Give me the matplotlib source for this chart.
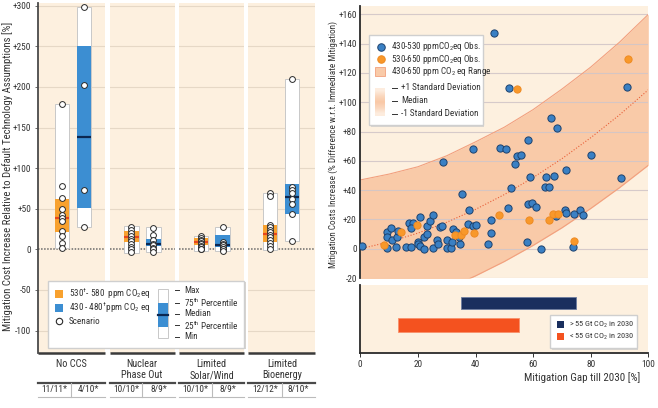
import matplotlib
matplotlib.use("Agg")
import matplotlib.pyplot as plt
import numpy as np
from matplotlib.patches import Rectangle
from matplotlib import font_manager as fm

avail = {f.name for f in fm.fontManager.ttflist}
FONT = 'Liberation Sans'
K = 0.86
for cand, k in [('Liberation Sans Narrow', 1.0), ('Roboto Condensed', 0.97),
                ('DejaVu Sans Condensed', 0.86), ('Open Sans Condensed', 0.97)]:
    if cand in avail:
        FONT, K = cand, k
        break
plt.rcParams['font.family'] = [FONT, 'Liberation Sans', 'DejaVu Sans']
plt.rcParams['mathtext.fontset'] = 'custom'
plt.rcParams['mathtext.rm'] = FONT
plt.rcParams['mathtext.it'] = FONT
plt.rcParams['mathtext.bf'] = FONT

# ---------------- data: left panel ----------------
groups = ["No CCS", "Nuclear\nPhase Out", "Limited\nSolar/Wind", "Limited\nBioenergy"]
counts_orange = ["11/11*", "10/10*", "10/10*", "12/12*"]
counts_blue = ["4/10*", "8/9*", "8/9*", "8/10*"]

# min, q1, median, q3, max
stats_orange = [
    [2, 21, 39, 62, 179],
    [-4, 9.4, 15.5, 22.5, 28.7],
    [-2, 5.3, 9.4, 13.5, 16.4],
    [-1, 8.6, 18.5, 30, 70],
]
stats_blue = [
    [28, 51, 138, 250, 298],
    [-3.7, 4, 7, 13, 27.5],
    [-2, 3.2, 5.3, 17.6, 28],
    [10, 44, 64, 80, 210],
]
scen_orange = [
    [179, 78, 63, 50, 42, 38, 35, 22, 17, 8, 2],
    [28, 24, 20, 16, 13, 10, 7, 3, 0, -3],
    [16, 14, 12, 10, 8, 6, 4, 3, 1, 0],
    [70, 66, 30, 27, 24, 21, 18, 15, 12, 8, 4, 1],
]
scen_blue = [
    [298, 202, 73, 28],
    [26, 18, 11, 7, 5, 2, 0, -3],
    [28, 9, 7, 5, 3, 1, 0, -2],
    [210, 77, 73, 69, 62, 56, 44, 10],
]
left_ticks = [-100, -50, 0, 50, 100, 150, 200, 250, 300]
left_ticklabels = ["-100", "-50", "0", "+50", "+100", "+150", "+200", "+250", "+300"]

# ---------------- data: right scatter ----------------
blue_x = [46.5, 51.6, 92.7, 66.1, 68.3, 58.1, 39.2, 48.4, 50.5, 28.8, 54.3, 55.7, 53.7, 80, 71.3,
          59, 64.4, 67.1, 90.5, 64.1, 65.5, 52.4, 35.3, 0.5, 9.2, 9.4, 10.5, 9.4, 11.1, 12.6, 13,
          12.3, 15.9, 17.6, 16.9, 18.4, 17.7, 20.6, 20, 20, 20.7, 22.1, 23.3, 22.2, 23.3, 24.1,
          25.3, 25.2, 26.5, 27, 27.8, 28.4, 30.1, 30.1, 31.5, 31.8, 32.3, 33.1, 34.7, 34.2, 37.7,
          37.5, 39.2, 40, 45.3, 45.3, 44.5, 51.4, 58.1, 59.5, 61.1, 58, 62.7, 68.1, 71.1, 71.3,
          74.2, 76.2, 77.3, 73.7]
blue_y = [147, 109.6, 110.4, 89.1, 82.2, 74.5, 68.1, 69, 67.9, 59, 63.3, 63.8, 57.9, 64.2, 54,
          48.8, 48.8, 49.9, 48.5, 42.4, 42.2, 41.3, 37.4, 1.9, 0.8, 11.2, 14.2, 7.8, 6, 7.8, 12.4,
          1, 1.2, 1.2, 17.4, 17.4, 14.4, 21.7, 4.8, 3.5, 1.9, 8.3, 10.1, 0.1, 15.4, 18.8,
          23.3, 0.3, 6, 3.5, 15.1, 15.8, 6, 0.3, 0.8, 4.6, 13.3, 11.5, 3.3, 8.1, 26.3,
          16.9, 15.6, 16.2, 19.4, 10.6, 3.5, 27.6, 30.4, 31.3, 28.5, 4.8, 0.1, 22.2, 26.3, 24.2,
          23.5, 26.7, 22.9, 1]
orange_x = [54.3, 92.8, 8.3, 14.1, 19.8, 33, 34.9, 35.9, 39.5, 48.2, 58.7, 65.4, 67, 68.6, 74.1]
orange_y = [109.3, 129.3, 2.6, 11.2, 16, 9.6, 9.6, 12.2, 10.8, 23.3, 19.4, 19.4, 23.8, 24, 5.5]

# +/-1 standard deviation and median curves, read at x = 0, 10, ..., 100
curve_x = [0, 10, 20, 30, 40, 50, 60, 70, 80, 90, 100]
sd_upper = [47, 51, 56, 63.5, 73, 83, 95, 109, 124, 141, 160]
sd_median = [0, 4.7, 10.7, 18.1, 26.9, 37, 48.6, 61.5, 75.8, 91.4, 108.5]
sd_lower = [-47, -41.5, -35, -27.3, -18.5, -8.7, 2.3, 14.3, 27.5, 41.7, 57]
right_ticks = [-20, 0, 20, 40, 60, 80, 100, 120, 140, 160]
right_ticklabels = ["-20", "0", "+20", "+40", "+60", "+80", "+100", "+120", "+140", "+160"]

# ---------------- data: right bars ----------------
bar_labels = ["> 55 Gt CO$_2$ in 2030", "< 55 Gt CO$_2$ in 2030"]
bar_start = [35, 13]
bar_end = [75, 55]

# ---------------- style ----------------
W, H = 658, 408
CREAM = '#FDF0DF'
ORANGE = '#F8A12E'
ORANGE_MED = '#E6461E'
BLUE = '#3C8ED2'
BLUE_MED = '#0C2750'
PEACH = '#F9CAA8'
SC_BLUE = '#3A80C4'
SC_ORANGE = '#F8982A'
NAVY = '#1A2F5E'
RED_OR = '#F4521F'
TXT = '#333333'
FS = 7.0 * K        # tick labels
FL = 6.8 * K        # legend text

fig = plt.figure(figsize=(W / 100, H / 100), dpi=100)


def fx(px):
    return px / W


def fy(py):
    return 1 - py / H


# ================= left panel =================
axl = fig.add_axes([fx(37.7), fy(353.3), 277.6 / W, 350 / H])
axl.set_xlim(0, 4)
axl.set_ylim(-128, 303)
axl.set_facecolor(CREAM)
for v in left_ticks:
    if v != 0:
        axl.axhline(v, color='#E6D8C6', lw=0.8, zorder=0.5)
gap = 0.064
seg = []
for i in range(4):
    s = 0 if i == 0 else i + 0.005 + gap / 2
    e = 4 if i == 3 else i + 1 + 0.005 - gap / 2
    seg.append((s, e))
for i in range(1, 4):
    axl.axvspan(i + 0.005 - gap / 2, i + 0.005 + gap / 2, color='white', zorder=1, lw=0)
for (s, e) in seg:
    axl.hlines(0, s, e, colors='#6A6A6A', linestyles=(0, (1, 1)), lw=1.1, zorder=2)
    axl.hlines(-128, s, e, colors='#3A3A3A', lw=1.8, zorder=5, clip_on=False)

bw = 0.21
for i in range(4):
    for off, st, col, mcol, sc in [(0.35, stats_orange[i], ORANGE, ORANGE_MED, scen_orange[i]),
                                   (0.665, stats_blue[i], BLUE, BLUE_MED, scen_blue[i])]:
        xc = i + off
        mn, q1, md, q3, mx = st
        axl.add_patch(Rectangle((xc - bw / 2, mn), bw, mx - mn, facecolor='white',
                                edgecolor='#C8C8C8', lw=0.7, zorder=3))
        axl.add_patch(Rectangle((xc - bw / 2, q1), bw, q3 - q1, facecolor=col,
                                edgecolor='none', zorder=3.5))
        axl.hlines(md, xc - bw / 2, xc + bw / 2, colors=mcol, lw=1.6, zorder=3.8)
        axl.plot([xc] * len(sc), sc, 'o', ms=4.2, mfc='white', mec='#2A2A2A', mew=0.7,
                 zorder=4, clip_on=False)

axl.set_yticks(left_ticks)
axl.set_yticklabels(left_ticklabels, fontsize=FS, color=TXT)
axl.set_xticks([])
axl.tick_params(axis='y', length=2, width=0.6, color='#555555', pad=2.5)
for sp in ['top', 'right', 'bottom']:
    axl.spines[sp].set_visible(False)
axl.spines['left'].set_color('#4A4A4A')
axl.spines['left'].set_linewidth(1.3)

xt = axl.get_xaxis_transform()
for i, (s, e) in enumerate(seg):
    axl.text((s + e) / 2, -0.017, groups[i], transform=xt, ha='center', va='top',
             fontsize=7.6 * K, color=TXT, linespacing=1.1)
    axl.plot([s, e], [-0.084, -0.084], transform=xt, color='#4A4A4A', lw=1.6, clip_on=False)
    axl.plot([s, e], [-0.124, -0.124], transform=xt, color='#BBBBBB', lw=0.8, clip_on=False)
    mid = (s + e) / 2
    axl.plot([mid, mid], [-0.084, -0.124], transform=xt, color='#BBBBBB', lw=0.8, clip_on=False)
    axl.text((s + mid) / 2, -0.104, counts_orange[i], transform=xt, ha='center', va='center',
             fontsize=FS, color=TXT)
    axl.text((mid + e) / 2, -0.104, counts_blue[i], transform=xt, ha='center', va='center',
             fontsize=FS, color=TXT)

fig.text(fx(8), fy(176), "Mitigation Cost Increase Relative to Default Technology Assumptions [%]",
         rotation=90, ha='center', va='center', fontsize=8.0 * K, color=TXT)

# ================= right scatter =================
axr = fig.add_axes([fx(360.3), fy(278.1), 288 / W, 272.5 / H])
axr.set_xlim(0, 100)
axr.set_ylim(-20, 166)
axr.set_facecolor(CREAM)
axr.fill_between(curve_x, sd_lower, sd_upper, color=PEACH, lw=0, zorder=1)
for v in right_ticks:
    axr.axhline(v, color='#D2C6C8', lw=0.8, zorder=1.5, alpha=0.9)
axr.plot(curve_x, sd_upper, color='#F2A07E', lw=0.8, zorder=2)
axr.plot(curve_x, sd_lower, color='#F2A07E', lw=0.8, zorder=2)
axr.plot(curve_x, sd_median, color='#E8603A', lw=0.8, ls=(0, (1, 1.6)), zorder=2)
axr.scatter(blue_x, blue_y, s=27, c=SC_BLUE, edgecolors='#1D426E', linewidths=0.7, zorder=3)
axr.scatter(orange_x, orange_y, s=27, c=SC_ORANGE, edgecolors='#EE8A22', linewidths=0.7, zorder=4)
axr.set_yticks(right_ticks)
axr.set_yticklabels(right_ticklabels, fontsize=FS, color=TXT)
axr.set_xticks([])
axr.tick_params(axis='y', length=0, pad=2.5)
for sp in ['top', 'right', 'bottom']:
    axr.spines[sp].set_visible(False)
axr.spines['left'].set_color('#2A2A2A')
axr.spines['left'].set_linewidth(1.3)

fig.text(fx(333.5), fy(144), "Mitigation Costs Increase (% Difference w.r.t. Immediate Mitigation)",
         rotation=90, ha='center', va='center', fontsize=7.4 * K * 0.92, color=TXT)

# ================= right bars =================
axb = fig.add_axes([fx(360.3), fy(353.3), 288 / W, 68.3 / H])
axb.set_xlim(0, 100)
axb.set_ylim(0, 1)
axb.set_facecolor(CREAM)
widths = [e - s for s, e in zip(bar_start, bar_end)]
axb.barh([0.736, 0.414], widths, left=bar_start, height=[0.185, 0.195],
         color=[NAVY, RED_OR], edgecolor=['#6C7CA0', '#F8906A'], linewidth=0.6, zorder=3)
axb.set_xticks([0, 20, 40, 60, 80, 100])
axb.set_xticklabels(["0", "20", "40", "60", "80", "100"], fontsize=FS, color=TXT)
axb.set_yticks([])
axb.tick_params(axis='x', length=3, width=0.7, color='#333333', pad=2)
for sp in ['top', 'right']:
    axb.spines[sp].set_visible(False)
axb.spines['left'].set_color('#2A2A2A')
axb.spines['left'].set_linewidth(1.3)
axb.spines['bottom'].set_color('#2A2A2A')
axb.spines['bottom'].set_linewidth(1.3)
fig.text(fx(640), fy(378), "Mitigation Gap till 2030 [%]", ha='right', va='center',
         fontsize=8.2 * K, color=TXT)

# ================= legends (overlay in pixel coords) =================
ov = fig.add_axes([0, 0, 1, 1], zorder=20)
ov.set_xlim(0, W)
ov.set_ylim(H, 0)
ov.axis('off')
ov.patch.set_alpha(0)


def box(x0, y0, x1, y1):
    ov.add_patch(Rectangle((x0 + 1.5, y0 + 1.5), x1 - x0, y1 - y0, facecolor='#D8D4CF',
                           edgecolor='none', zorder=1))
    ov.add_patch(Rectangle((x0, y0), x1 - x0, y1 - y0, facecolor='white',
                           edgecolor='#CFCFCF', lw=1.0, zorder=2))


# left legend
box(47.7, 280.7, 244, 347.7)
ov.add_patch(Rectangle((55, 290), 8, 8, facecolor=ORANGE, edgecolor='none', zorder=3))
ov.add_patch(Rectangle((55, 303.5), 8, 8, facecolor=BLUE, edgecolor='none', zorder=3))
ov.plot([59], [321], 'o', ms=4.6, mfc='white', mec='#2A2A2A', mew=0.8, zorder=3)
ov.text(69, 294, "530$^{\\dagger}$- 580  ppm CO$_2$eq", fontsize=FL, va='center', color=TXT, zorder=3)
ov.text(69, 307.5, "430 - 480$^{\\dagger}$ppm CO$_2$ eq", fontsize=FL, va='center', color=TXT, zorder=3)
ov.text(69, 321, "Scenario", fontsize=FL, va='center', color=TXT, zorder=3)
ov.add_patch(Rectangle((157.7, 289), 10.6, 48.7, facecolor='white', edgecolor='#C8C8C8',
                       lw=0.7, zorder=3))
ov.add_patch(Rectangle((157.7, 303.3), 10.6, 23.4, facecolor=BLUE, edgecolor='none', zorder=3.5))
ov.plot([157.7, 168.3], [315, 315], color=BLUE_MED, lw=1.6, zorder=4)
for yy, lab in zip([290.3, 302.5, 313.7, 325.3, 336.7],
                   ["Max", "75$^{\\rm th}$ Percentile", "Median", "25$^{\\rm th}$ Percentile", "Min"]):
    ov.plot([175, 179], [yy, yy], color=TXT, lw=0.7, zorder=3)
    ov.text(184.5, yy, lab, fontsize=FL, va='center', color=TXT, zorder=3)

# scatter legend
box(369.3, 35, 482.7, 125)
ov.plot([381], [46.7], 'o', ms=5.4, mfc=SC_BLUE, mec='#1D426E', mew=0.7, zorder=3)
ov.plot([381], [59.3], 'o', ms=5.4, mfc=SC_ORANGE, mec='#EE8A22', mew=0.7, zorder=3)
ov.add_patch(Rectangle((375, 67), 10, 9, facecolor=PEACH, edgecolor='#F2A07E', lw=0.6, zorder=3))
ov.text(391, 46.7, "430-530 ppmCO$_2$eq Obs.", fontsize=FL, va='center', color=TXT, zorder=3)
ov.text(391, 59.3, "530-650 ppmCO$_2$eq Obs.", fontsize=FL, va='center', color=TXT, zorder=3)
ov.text(391, 71.5, "430-650 ppm CO$_2$ eq Range", fontsize=FL, va='center', color=TXT, zorder=3)
grad = np.array([0.0, 0.6, 1.0, 0.6, 0.0]).reshape(-1, 1)
c0 = np.array([253, 236, 222]) / 255
c1 = np.array([249, 200, 166]) / 255
img = c0[None, None, :] * (1 - grad[:, :, None]) + c1[None, None, :] * grad[:, :, None]
ov.imshow(img, extent=(375, 385, 116, 88), aspect='auto', interpolation='bilinear', zorder=3)
for yy, lab in zip([87.7, 100.7, 114], ["+1 Standard Deviation", "Median", "-1 Standard Deviation"]):
    ov.plot([391.5, 396.5], [yy, yy], color=TXT, lw=0.7, zorder=3)
    ov.text(401, yy, lab, fontsize=FL, va='center', color=TXT, zorder=3)
ov.set_xlim(0, W)
ov.set_ylim(H, 0)

# bar legend
box(550, 315, 636.7, 348.3)
ov.add_patch(Rectangle((557, 321), 7, 7, facecolor=NAVY, edgecolor='none', zorder=3))
ov.add_patch(Rectangle((557, 333), 7, 7, facecolor=RED_OR, edgecolor='none', zorder=3))
ov.text(569, 324.5, bar_labels[0], fontsize=FL * 0.9, va='center', color=TXT, zorder=3)
ov.text(569, 336.5, bar_labels[1], fontsize=FL * 0.9, va='center', color=TXT, zorder=3)

fig.savefig("out.png", dpi=100)
